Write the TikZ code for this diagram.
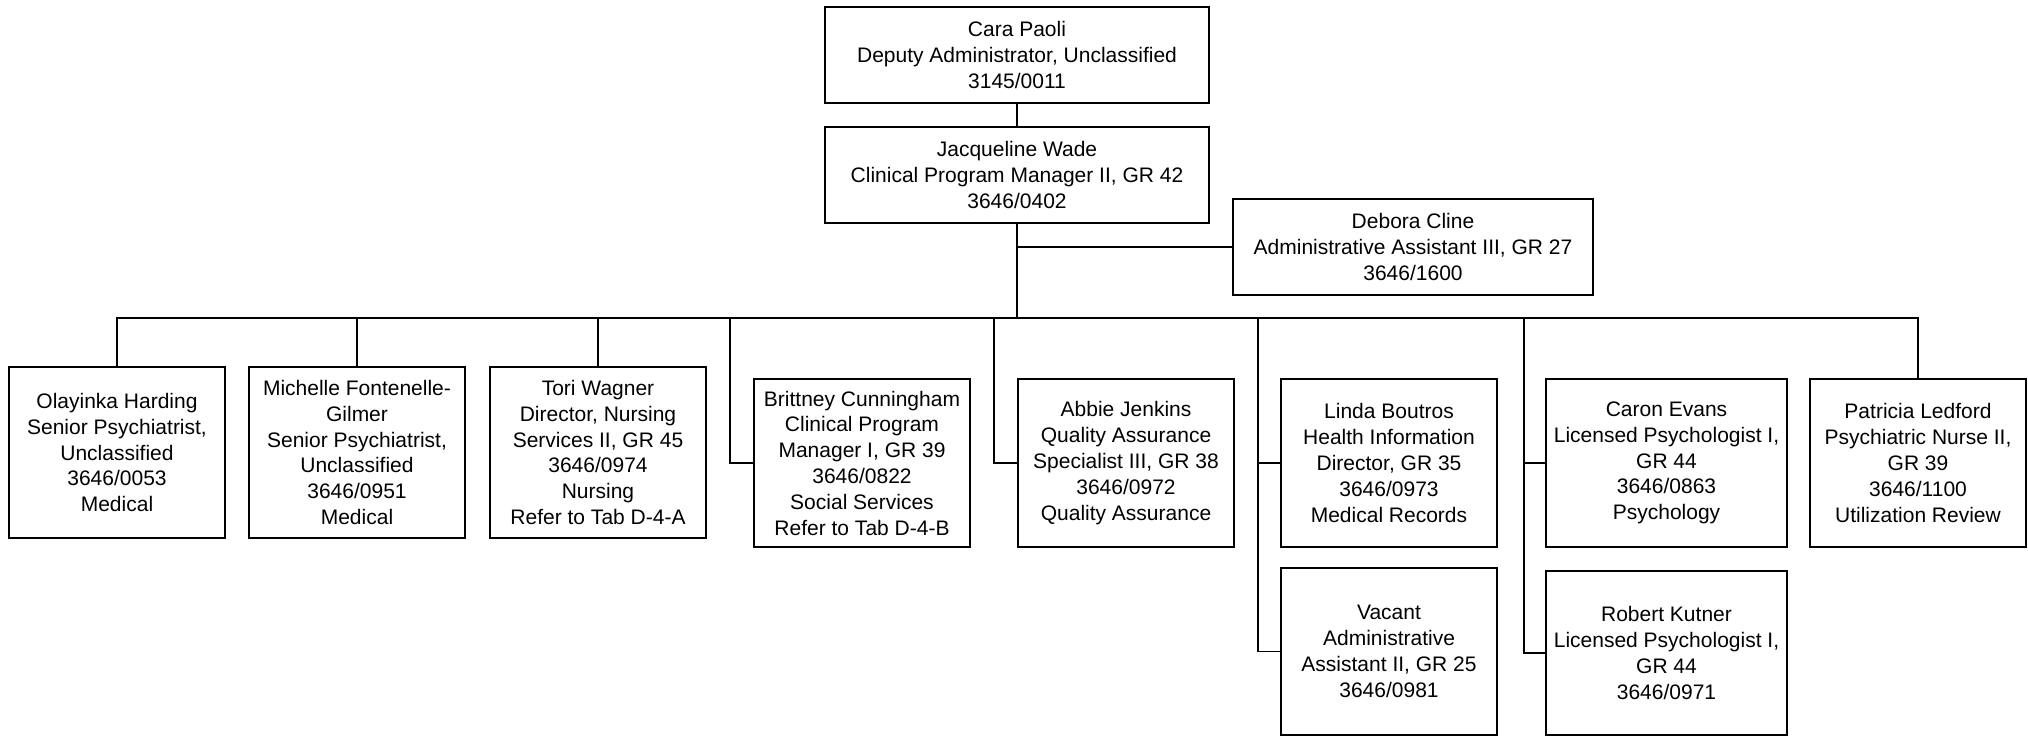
\documentclass[tikz,border=0pt]{standalone}
\usepackage{fontspec}
\setmainfont{Liberation Sans}
\usetikzlibrary{positioning}

\tikzset{
  box/.style={draw, line width=0.8pt, align=center, inner sep=2pt, outer sep=0pt, font=\fontsize{10.5}{12.9}\selectfont},
  headbox/.style={box, minimum width=192pt, minimum height=48pt},
  staffbox/.style={box, minimum width=108pt, minimum height=84pt},
  link/.style={line width=0.8pt}
}

\begin{document}
\begin{tikzpicture}
        \useasboundingbox (0,0) rectangle (1014pt,-368.5pt);

        \node [headbox] (T1) at (508.5pt,-27.5pt) {Cara Paoli\\Deputy Administrator, Unclassified\\3145/0011};
        \node [headbox, below=12pt of T1] (T2) {Jacqueline Wade\\Clinical Program Manager II, GR 42\\3646/0402};
        \node [headbox, minimum width=180pt, right=12pt of T2, yshift=-36pt] (T3) {Debora Cline\\Administrative Assistant III, GR 27\\3646/1600};
        \coordinate [below=47.5pt of T2] (bus);

        % first row
        \node [staffbox, minimum height=85.5pt] (S1) at (58.5pt,-226.25pt) {Olayinka Harding\\Senior Psychiatrist,\\Unclassified\\3646/0053\\Medical};
        \node [staffbox, minimum height=85.5pt, right=12pt of S1] (S2) {Michelle Fontenelle-\\Gilmer\\Senior Psychiatrist,\\Unclassified\\3646/0951\\Medical};
        \node [staffbox, minimum height=85.5pt, right=12.5pt of S2] (S3) {Tori Wagner\\Director, Nursing\\Services II, GR 45\\3646/0974\\Nursing\\Refer to Tab D-4-A};

        % second row, hung from the bus
        \node [staffbox, right=24pt of S3, yshift=-5.25pt] (S4) {Brittney Cunningham\\Clinical Program\\Manager I, GR 39\\3646/0822\\Social Services\\Refer to Tab D-4-B};
        \node [staffbox, right=24pt of S4] (S5) {Abbie Jenkins\\Quality Assurance\\Specialist III, GR 38\\3646/0972\\Quality Assurance};
        \node [staffbox, right=23.5pt of S5] (S6) {Linda Boutros\\Health Information\\Director, GR 35\\3646/0973\\Medical Records};
        \node [staffbox, minimum height=83.5pt, below=10.5pt of S6] (S7) {Vacant\\Administrative\\Assistant II, GR 25\\3646/0981};
        \node [staffbox, minimum width=120.5pt, right=24.5pt of S6] (S8) {Caron Evans\\Licensed Psychologist I,\\GR 44\\3646/0863\\Psychology};
        \node [staffbox, minimum width=120.5pt, minimum height=82pt, below=12pt of S8] (S9) {Robert Kutner\\Licensed Psychologist I,\\GR 44\\3646/0971};
        \node [staffbox, right=11.5pt of S8] (S10) {Patricia Ledford\\Psychiatric Nurse II,\\GR 39\\3646/1100\\Utilization Review};

        \coordinate [left=12pt of S4] (J4);
        \coordinate [left=12pt of S5] (J5);
        \coordinate [left=11.5pt of S6] (J6);
        \coordinate [left=11pt of S8] (J8);

        \draw [link] (T1) -- (T2);
        \draw [link] (T2) -- (bus);
        \draw [link] (T2 |- T3.west) -- (T3);
        \draw [link] (S1) |- (bus) -- (bus -| S10) -- (S10);
        \draw [link] (S2) -- (S2 |- bus);
        \draw [link] (S3) -- (S3 |- bus);
        \draw [link] (J4 |- bus) |- (S4);
        \draw [link] (J5 |- bus) |- (S5);
        \draw [link] (J6 |- bus) |- (S7);
        \draw [link] (J6) -- (S6);
        \draw [link] (J8 |- bus) |- (S9);
        \draw [link] (J8) -- (S8);
\end{tikzpicture}
\end{document}
